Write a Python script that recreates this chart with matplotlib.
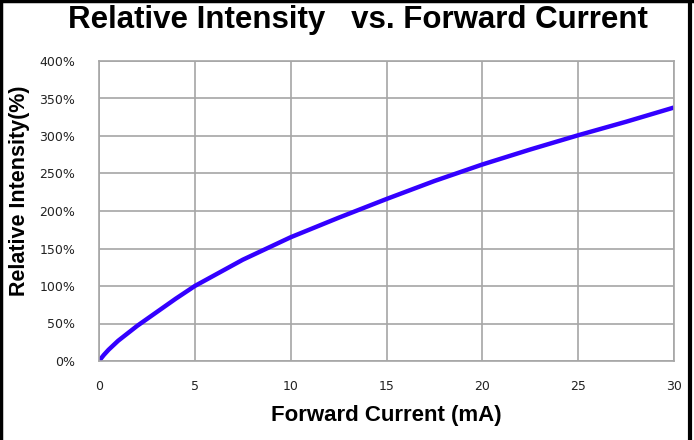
import matplotlib.pyplot as plt
from matplotlib.lines import Line2D

# forward current (mA) and relative intensity (%)
current = [0, 0.25, 0.5, 1, 2, 3, 4, 5, 7.5, 10, 12.5, 15, 17.5, 20, 22.5, 25, 27.5, 30]
intensity = [0, 8, 15, 27, 47, 65, 83, 100, 135, 165, 191, 216, 240, 262, 282, 301, 319, 338]

x_ticks = [0, 5, 10, 15, 20, 25, 30]
y_ticks = [0, 50, 100, 150, 200, 250, 300, 350, 400]
y_tick_labels = [f"{v}%" for v in y_ticks]

fig = plt.figure(figsize=(6.94, 4.4), dpi=100)
ax = fig.add_axes([99 / 694, 1 - 361 / 440, 575 / 694, 300 / 440])

ax.plot(current, intensity, color="#3300ff", linewidth=3.2, solid_capstyle="butt")

ax.set_xlim(0, 30)
ax.set_ylim(0, 400)
ax.set_xticks(x_ticks)
ax.set_yticks(y_ticks)
ax.set_yticklabels(y_tick_labels)
ax.tick_params(length=0, labelsize=9, colors="#222222")
ax.tick_params(axis="x", pad=14)
ax.tick_params(axis="y", pad=17)
ax.grid(True, color="#a6a6a6", linewidth=1.2)
for s in ax.spines.values():
    s.set_color("#a6a6a6")
    s.set_linewidth(1.2)

fig.text(386 / 694, 1 - 415 / 440, "Forward Current (mA)", family="Liberation Sans",
         fontsize=16, fontweight="bold", ha="center", va="center")
fig.text(20 / 694, 1 - 191 / 440, "Relative Intensity(%)", family="Liberation Sans",
         fontsize=15.5, fontweight="bold", ha="center", va="center", rotation=90)

fig.text(358 / 694, 1 - 20 / 440, "Relative Intensity   vs. Forward Current",
         family="Liberation Sans", fontsize=22.5, fontweight="bold",
         ha="center", va="center")

# black frame around the picture (left, top, right)
fig.add_artist(Line2D([0.002, 0.002], [0, 1], color="black", linewidth=2.5))
fig.add_artist(Line2D([0, 1], [0.998, 0.998], color="black", linewidth=2.5))
fig.add_artist(Line2D([690 / 694, 690 / 694], [0, 1], color="black", linewidth=3))

fig.savefig("out.png", dpi=100)
